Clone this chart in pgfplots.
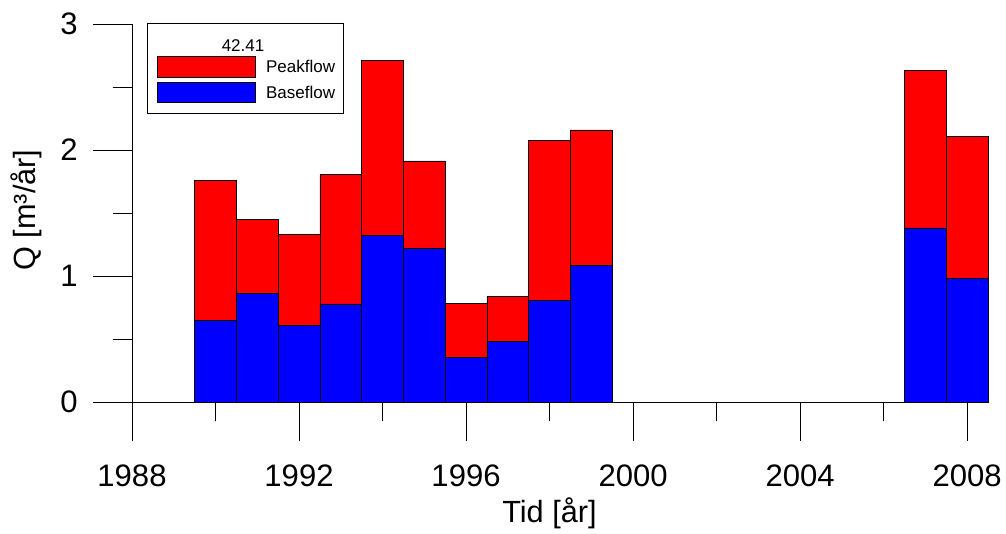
\documentclass[border=0pt]{standalone}
\usepackage{pgfplots}
\usepackage{pgfplotstable}
\pgfplotsset{compat=1.18}
\usepackage{fontspec}
\setmainfont{Liberation Sans}

\pgfplotstableread{
year base peak
1990 0.645 1.111
1991 0.863 0.584
1992 0.606 0.722
1993 0.778 1.026
1994 1.323 1.387
1995 1.217 0.696
1996 0.355 0.428
1997 0.479 0.362
1998 0.807 1.270
1999 1.082 1.077
2007 1.381 1.248
2008 0.982 1.124
}\datatable

\begin{document}
\begin{tikzpicture}
\begin{axis}[
  scale only axis, width=642pt, height=283.5pt,
  xmin=1988, xmax=2008.5, ymin=0, ymax=3,
  axis x line=bottom, axis y line=left,
  axis line style={-, black, line width=0.6pt},
  ybar stacked, bar width=1,
  xtick={1988,1992,...,2008}, minor xtick={1990,1994,...,2006},
  ytick={0,1,2,3}, minor ytick={0.5,1.5,2.5},
  tick align=outside, major tick length=29pt, minor tick length=14.6pt,
  tick style={black, line width=0.6pt},
  /pgf/number format/assume math mode=true,
  xticklabel style={/pgf/number format/1000 sep=, anchor=base, yshift=-34.5pt, inner sep=0pt},
  yticklabel style={anchor=east, xshift=-11.5pt, inner sep=0pt},
  tick label style={font=\fontsize{23.3}{27}\selectfont},
  label style={font=\fontsize{23}{27}\selectfont},
  xlabel={Tid [år]}, ylabel={Q [m³/år]},
  xlabel style={at={(axis description cs:0.4877,-0.3201)}, anchor=base, inner sep=0pt},
  ylabel style={at={(axis description cs:-0.1133,0.508)}, anchor=base, inner sep=0pt},
  clip=false,
  legend style={at={(axis description cs:0.0292,0.9161)}, anchor=north west,
    draw=none, fill=none, inner sep=0pt, row sep=3.2pt, column sep=7.5pt,
    font=\fontsize{12.75}{15}\selectfont, nodes={inner sep=0pt}},
  legend cell align=left,
  reverse legend,
  mylegend/.style={legend image code/.code={\draw[##1, draw=black, line width=0.6pt] (0pt,-6.8pt) rectangle (73.5pt,8.6pt);}},
]
\addplot[fill=blue, draw=black, line width=0.6pt, mylegend] table[x=year, y=base] {\datatable};
\addlegendentry{Baseflow}
\addplot[fill=red, draw=black, line width=0.6pt, mylegend] table[x=year, y=peak] {\datatable};
\addlegendentry{Peakflow}
\draw[black, line width=0.6pt] (axis description cs:0.01752,1.00265) rectangle (axis description cs:0.2465,0.7646);
\node[anchor=base, font=\fontsize{12.75}{15}\selectfont, inner sep=0pt] at (axis description cs:0.1297,0.926) {42.41};
\end{axis}
\pgfresetboundingbox
\path[use as bounding box] (-99pt,-99pt) rectangle (655.5pt,301.5pt);
\end{tikzpicture}
\end{document}
